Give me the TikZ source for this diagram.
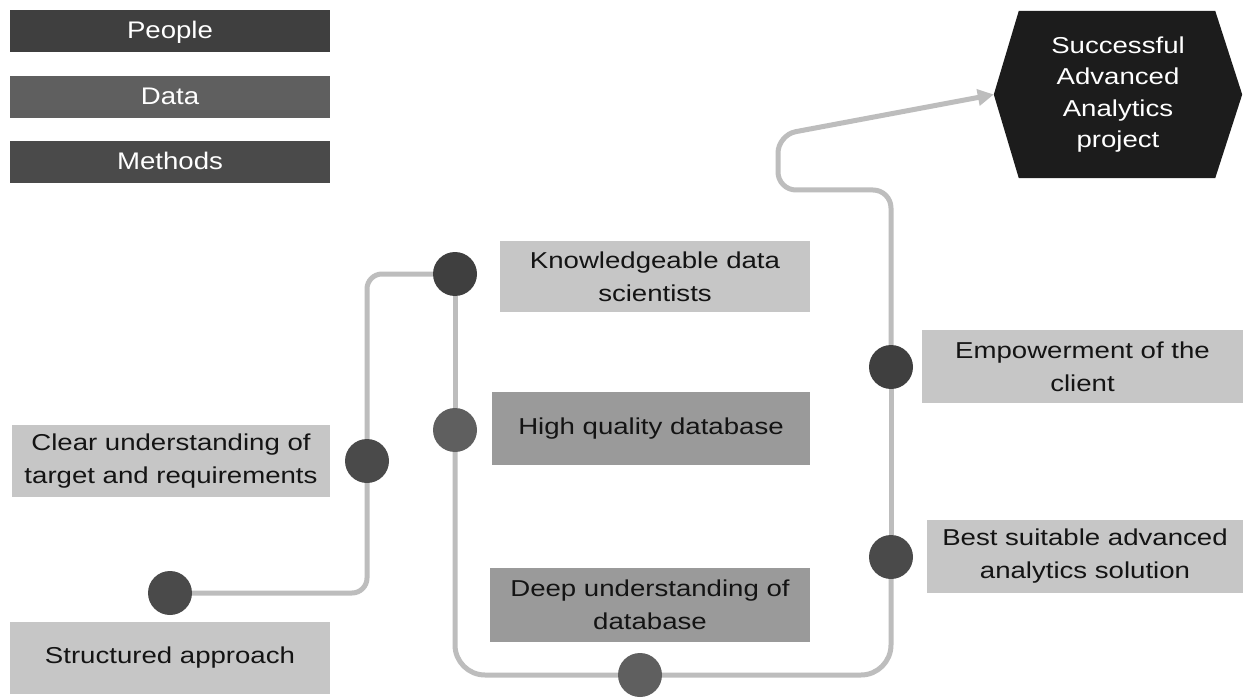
\documentclass[tikz,border=0pt]{standalone}
\usepackage{fontspec}
\setmainfont[FakeStretch=1.2]{Liberation Sans}
\newfontfamily\legendfont[FakeStretch=1.15]{Liberation Sans}
\usetikzlibrary{backgrounds,arrows.meta}

\definecolor{peoplec}{HTML}{3F3F3F}
\definecolor{datac}{HTML}{5F5F5F}
\definecolor{methodc}{HTML}{4A4A4A}
\definecolor{goalc}{HTML}{1C1C1C}
\definecolor{boxlight}{HTML}{C6C6C6}
\definecolor{boxmid}{HTML}{9A9A9A}
\definecolor{routegray}{HTML}{BDBDBD}
\definecolor{inktext}{HTML}{141414}

\begin{document}
\begin{tikzpicture}[x=1pt,y=-1pt,
  legend/.style={rectangle, inner sep=0pt, minimum width=320pt, minimum height=42pt,
    text=white, font=\legendfont\fontsize{24}{30}\selectfont, text depth=2pt},
  item/.style={rectangle, inner sep=0pt, align=center, text=inktext,
    font=\fontsize{23}{33}\selectfont},
  light/.style={item, fill=boxlight},
  mid/.style={item, fill=boxmid},
  dot/.style={circle, inner sep=0pt, minimum size=44pt},
  route/.style={draw=routegray, line width=5pt, rounded corners=15pt},
  goalbox/.style={rectangle, inner sep=0pt, minimum width=248pt, minimum height=167pt,
    align=center, text=white, font=\fontsize{23}{31.5}\selectfont}
]
\useasboundingbox (0,0) rectangle (1243,698);

% legend
\node[legend, fill=peoplec] (people) at (170,31) {People};
\node[legend, fill=datac] (data) at (170,97) {Data};
\node[legend, fill=methodc] (methods) at (170,162) {Methods};

% goal
\node[goalbox] (goal) at (1118,94.5) {Successful\\Advanced\\Analytics\\project};

% labels
\node[light, minimum width=318pt, minimum height=72pt] (tclear) at (171,461) {Clear understanding of\\target and requirements};
\node[light, minimum width=320pt, minimum height=72pt] (tstruct) at (170,658) {Structured approach};
\node[light, minimum width=310pt, minimum height=71pt] (tknow) at (655,276.5) {Knowledgeable data\\scientists};
\node[mid, minimum width=318pt, minimum height=73pt] (tqual) at (651,428.5) {High quality database};
\node[mid, minimum width=320pt, minimum height=74pt] (tdeep) at (650,605) {Deep understanding of\\database};
\node[light, minimum width=321pt, minimum height=73pt] (temp) at (1082.5,366.5) {Empowerment of the\\client};
\node[light, minimum width=316pt, minimum height=73pt] (tbest) at (1085,556.5) {Best suitable advanced\\analytics solution};

% milestones
\node[dot, fill=methodc] (s) at (170,593) {};
\node[dot, fill=methodc] (c) at (367,461) {};
\node[dot, fill=peoplec] (k) at (455,274) {};
\node[dot, fill=datac] (h) at (455,430) {};
\node[dot, fill=datac] (dd) at (640,675) {};
\node[dot, fill=methodc] (b) at (891,557) {};
\node[dot, fill=peoplec] (e) at (891,367) {};

\coordinate (turn) at (778,190);
\coordinate (rise) at (778,135);

\begin{scope}[on background layer]
  \fill[white] (0,0) rectangle (1243,698);
  \fill[goalc] (goal.west) -- ([xshift=25pt]goal.north west) -- ([xshift=-27pt]goal.north east)
    -- (goal.east) -- ([xshift=-27pt]goal.south east) -- ([xshift=25pt]goal.south west) -- cycle;
  \draw[route] (s) -- (s -| c) -- (c);
  \draw[route] (c) -- (c |- k) -- (k);
  \draw[route] (k) -- (h);
  \draw[route, rounded corners=30pt] (h) -- (h |- dd) -- (dd);
  \draw[route, rounded corners=30pt] (dd) -- (dd -| b) -- (b);
  \draw[route] (b) -- (e);
  \draw[route, rounded corners=18pt, -{Triangle[length=16pt,width=16pt]}]
    (e) -- (e |- turn) -- (turn) -- (rise) -- (goal.west);
\end{scope}
\end{tikzpicture}
\end{document}
